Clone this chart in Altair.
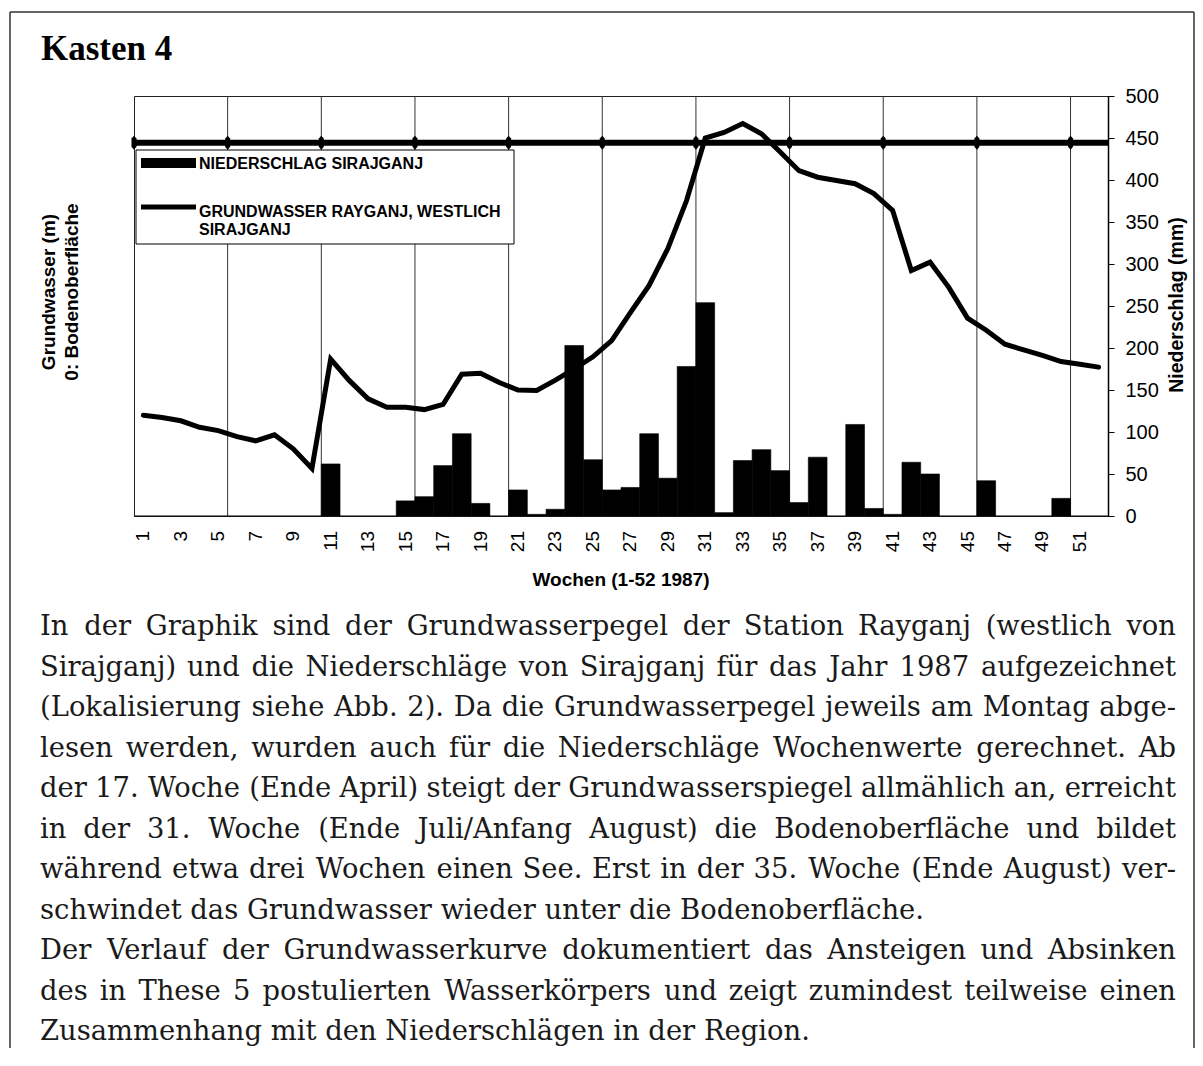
import altair as alt
import pandas as pd

# ---------------- data ----------------
weeks = list(range(1, 53))
precip_mm = [0, 0, 0, 0, 0, 0, 0, 0, 0, 0,
             62, 0, 0, 0, 18, 23, 60, 98, 15, 0,
             31, 2, 8, 203, 67, 31, 34, 98, 45, 178,
             254, 4, 66, 79, 54, 16, 70, 0, 109, 9,
             2, 64, 50, 0, 0, 42, 0, 0, 0, 21,
             0, 0]
groundwater_m = [-5.84, -5.89, -5.96, -6.10, -6.17, -6.30, -6.39, -6.26, -6.56, -6.98,
                 -4.64, -5.10, -5.49, -5.67, -5.67, -5.72, -5.61, -4.96, -4.94, -5.14,
                 -5.30, -5.31, -5.09, -4.85, -4.59, -4.24, -3.64, -3.06, -2.27, -1.24,
                 0.10, 0.22, 0.41, 0.19, -0.20, -0.60, -0.74, -0.81, -0.88, -1.09,
                 -1.45, -2.74, -2.56, -3.10, -3.76, -4.02, -4.32, -4.44, -4.56, -4.69,
                 -4.75, -4.81]
x_tick_labels = [1, 3, 5, 7, 9, 11, 13, 15, 17, 19, 21, 23, 25, 27, 29, 31, 33, 35,
                 37, 39, 41, 43, 45, 47, 49, 51]
left_ticks = [-8, -7, -6, -5, -4, -3, -2, -1, 0, 1]
right_ticks = [0, 50, 100, 150, 200, 250, 300, 350, 400, 450, 500]
grid_boundaries = [5.5, 10.5, 15.5, 20.5, 25.5, 30.5, 35.5, 40.5, 45.5, 50.5]
surface_markers = [0.5, 5.5, 10.5, 15.5, 20.5, 25.5, 30.5, 35.5, 40.5, 45.5, 50.5]
surface_level = [0.0]

title_text = "Kasten 4"
legend_labels = ["NIEDERSCHLAG SIRAJGANJ", "GRUNDWASSER RAYGANJ, WESTLICH", "SIRAJGANJ"]
left_title = ["Grundwasser (m)", "0: Bodenoberfläche"]
right_title = "Niederschlag (mm)"
x_title = "Wochen (1-52 1987)"

body_lines = [
    "In der Graphik sind der Grundwasserpegel der Station Rayganj (westlich von",
    "Sirajganj) und die Niederschläge von Sirajganj für das Jahr 1987 aufgezeichnet",
    "(Lokalisierung siehe Abb. 2). Da die Grundwasserpegel jeweils am Montag abge-",
    "lesen werden, wurden auch für die Niederschläge Wochenwerte gerechnet. Ab",
    "der 17. Woche (Ende April) steigt der Grundwasserspiegel allmählich an, erreicht",
    "in der 31. Woche (Ende Juli/Anfang August) die Bodenoberfläche und bildet",
    "während etwa drei Wochen einen See. Erst in der 35. Woche (Ende August) ver-",
    "schwindet das Grundwasser wieder unter die Bodenoberfläche.",
    "Der Verlauf der Grundwasserkurve dokumentiert das Ansteigen und Absinken",
    "des in These 5 postulierten Wasserkörpers und zeigt zumindest teilweise einen",
    "Zusammenhang mit den Niederschlägen in der Region.",
]
justified = [True, True, True, True, True, True, True, False, True, True, False]

# ---------------- layout ----------------
W, H = 974, 420
OX, OY = 134, 96          # page position of the plot area's top-left corner
SVG_W, SVG_H = 1187, 1040
PAD = {"left": OX - 8, "top": OY - 8,
       "right": SVG_W - (OX - 8) - W, "bottom": SVG_H - (OY - 8) - H}


def rx(xp):
    return xp - OX


def ry(yp):
    return yp - OY


SANS = "Liberation Sans"
SERIF_BODY = "DejaVu Serif"

df = pd.DataFrame({"week": weeks, "mm": precip_mm, "gw": groundwater_m})
df["x0"] = df["week"] - 0.5
df["x1"] = df["week"] + 0.5

xscale = alt.Scale(domain=[0.5, 52.5], nice=False, zero=False)
yl_scale = alt.Scale(domain=[-8, 1], nice=False, zero=False)
yr_scale = alt.Scale(domain=[0, 500], nice=False)

axis_common = dict(domainColor="black", domainWidth=1.5, tickColor="black",
                   labelColor="black", labelFont=SANS, grid=False)

grid = alt.Chart(pd.DataFrame({"b": grid_boundaries})).mark_rule(
    color="#333333", strokeWidth=1
).encode(x=alt.X("b:Q", scale=xscale, axis=None))

# week labels under the plot, placed through the x scale
xlabels = alt.Chart(pd.DataFrame({"wk": x_tick_labels})).mark_text(
    angle=270, align="right", baseline="middle", font=SANS, fontSize=19, color="black"
).encode(
    x=alt.X("wk:Q", scale=xscale, axis=None),
    y=alt.value(H + 15),
    text=alt.Text("wk:Q"),
)

bars = alt.Chart(df).mark_rect(color="black", stroke="black", strokeWidth=0.6).encode(
    x=alt.X("x0:Q", scale=xscale, axis=None),
    x2="x1:Q",
    y=alt.Y("mm:Q", scale=yr_scale, title=None,
            axis=alt.Axis(orient="right", values=right_ticks, labelFontSize=20,
                          tickSize=6, labelPadding=11, **axis_common)),
    y2=alt.datum(0),
)

line = alt.Chart(df).mark_line(color="black", strokeWidth=5, strokeCap="round").encode(
    x=alt.X("week:Q", scale=xscale, axis=None),
    y=alt.Y("gw:Q", scale=yl_scale, title=None,
            axis=alt.Axis(orient="left", values=left_ticks, labelFontSize=20,
                          tickSize=6, labelPadding=11, **axis_common)),
)

zero_df = pd.DataFrame({"xs": [0.5], "xe": [52.5], "lvl": surface_level})
zero_rule = alt.Chart(zero_df).mark_rule(color="black", strokeWidth=6).encode(
    x=alt.X("xs:Q", scale=xscale, axis=None), x2="xe:Q",
    y=alt.Y("lvl:Q", scale=yl_scale, axis=None),
)
markers = alt.Chart(pd.DataFrame({"m": surface_markers,
                                  "lvl": surface_level * len(surface_markers)})).mark_point(
    shape="M0,-1L0.36,-0.6L0.36,0.6L0,1L-0.36,0.6L-0.36,-0.6Z",
    size=196, filled=True, color="black", opacity=1, strokeWidth=0,
).encode(
    x=alt.X("m:Q", scale=xscale, axis=None),
    y=alt.Y("lvl:Q", scale=yl_scale, axis=None),
)
left_group = alt.layer(line, zero_rule, markers)


# ---------------- decorations in pixel space ----------------
def text_layer(rows, **kw):
    d = pd.DataFrame(rows, columns=["px", "py", "t"])
    return alt.Chart(d).mark_text(**kw).encode(
        x=alt.X("px:Q", scale=None), y=alt.Y("py:Q", scale=None), text="t:N")


def rect_layer(rows, **kw):
    d = pd.DataFrame(rows, columns=["a", "a2", "b", "b2"])
    return alt.Chart(d).mark_rect(**kw).encode(
        x=alt.X("a:Q", scale=None), x2="a2:Q", y=alt.Y("b:Q", scale=None), y2="b2:Q")


def rule_layer(rows, **kw):
    d = pd.DataFrame(rows, columns=["a", "a2", "b", "b2"])
    return alt.Chart(d).mark_rule(**kw).encode(
        x=alt.X("a:Q", scale=None), x2="a2:Q", y=alt.Y("b:Q", scale=None), y2="b2:Q")


legend_box = rect_layer([(rx(136), rx(514), ry(150), ry(244))],
                        fill="white", stroke="black", strokeWidth=1)
legend_swatch_bar = rect_layer([(rx(141), rx(196), ry(158), ry(168))], fill="black")
legend_swatch_line = rule_layer([(rx(141), rx(196), ry(207), ry(207))],
                                color="black", strokeWidth=5)
legend_text = text_layer(
    [(rx(199), ry(163.5), legend_labels[0]),
     (rx(199), ry(211.5), legend_labels[1]),
     (rx(199), ry(229.5), legend_labels[2])],
    align="left", baseline="middle", font=SANS, fontWeight="bold", fontSize=16, color="black")

title = text_layer([(rx(41), ry(60), title_text)], align="left", baseline="alphabetic",
                   font="Liberation Serif", fontWeight="bold", fontSize=35, color="black")

y_titles = text_layer([(rx(49), ry(292), left_title[0]), (rx(72), ry(292), left_title[1])],
                      angle=270, align="center", baseline="middle", font=SANS,
                      fontWeight="bold", fontSize=19, color="black")
r_title = text_layer([(rx(1177), ry(305), right_title)], angle=270, align="center",
                     baseline="middle", font=SANS, fontWeight="bold", fontSize=19.5, color="black")
xt = text_layer([(rx(621), ry(586), x_title)], align="center", baseline="alphabetic",
                font=SANS, fontWeight="bold", fontSize=19, color="black")

# justified body text (word placement from approximate DejaVu Serif advance widths)
CW = {
    'a': .596, 'b': .640, 'c': .560, 'd': .640, 'e': .592, 'f': .370, 'g': .640, 'h': .644,
    'i': .320, 'j': .310, 'k': .610, 'l': .320, 'm': .962, 'n': .644, 'o': .602, 'p': .640,
    'q': .640, 'r': .478, 's': .513, 't': .402, 'u': .644, 'v': .569, 'w': .855, 'x': .569,
    'y': .569, 'z': .522, 'ä': .596, 'ö': .602, 'ü': .644,
    'A': .722, 'B': .733, 'C': .732, 'D': .807, 'E': .729, 'F': .690, 'G': .798, 'H': .875,
    'I': .430, 'J': .438, 'K': .770, 'L': .695, 'M': 1.005, 'N': .858, 'O': .820, 'P': .683,
    'Q': .820, 'R': .763, 'S': .650, 'T': .690, 'U': .843, 'V': .722, 'W': 1.035, 'X': .713,
    'Y': .684, 'Z': .689, '.': .318, ',': .318, '(': .390, ')': .390, '/': .337, '-': .338,
    ':': .337,
}
for dgt in "0123456789":
    CW[dgt] = .636


def wem(s):
    return sum(CW.get(ch, 0.6) for ch in s)


TEXT_L, TEXT_R = 40, 1176
TEXT_W = TEXT_R - TEXT_L
fs_body = min(TEXT_W / (sum(wem(w) for w in ln.split()) + 0.30 * (len(ln.split()) - 1))
              for ln, j in zip(body_lines, justified) if j)
fs_body = min(fs_body, 28.0)

left_rows, center_rows, right_rows = [], [], []
for i, (ln, j) in enumerate(zip(body_lines, justified)):
    yb = ry(635 + i * 40.5)
    if not j:
        left_rows.append((rx(TEXT_L), yb, ln))
        continue
    words = ln.split()
    widths = [wem(w) * fs_body for w in words]
    gap = (TEXT_W - sum(widths)) / (len(words) - 1)
    xcur = TEXT_L
    for k, (w, wp) in enumerate(zip(words, widths)):
        if k == 0:
            left_rows.append((rx(xcur), yb, w))
        elif k == len(words) - 1:
            right_rows.append((rx(TEXT_R), yb, w))
        else:
            center_rows.append((rx(xcur + wp / 2), yb, w))
        xcur += wp + gap

body_kw = dict(baseline="alphabetic", font=SERIF_BODY, fontSize=fs_body, color="#1a1a1a")
body_left = text_layer(left_rows, align="left", **body_kw)
body_center = text_layer(center_rows, align="center", **body_kw)
body_right = text_layer(right_rows, align="right", **body_kw)

border = rule_layer([(rx(10), rx(1194), ry(12), ry(12)),
                     (rx(10), rx(10), ry(12), ry(8 + SVG_H)),
                     (rx(1194), rx(1194), ry(12), ry(8 + SVG_H))],
                    color="#333333", strokeWidth=1.5)

chart = alt.layer(
    grid, legend_box, bars, left_group, xlabels,
    legend_swatch_bar, legend_swatch_line, legend_text,
    title, y_titles, r_title, xt, body_left, body_center, body_right, border,
).resolve_scale(y="independent").properties(
    width=W, height=H, padding=PAD,
    autosize=alt.AutoSizeParams(type="none"),
    background="white",
).configure_view(stroke="#222222", strokeWidth=1)

chart.save("out.html", embed_options={"renderer": "svg", "actions": False})
